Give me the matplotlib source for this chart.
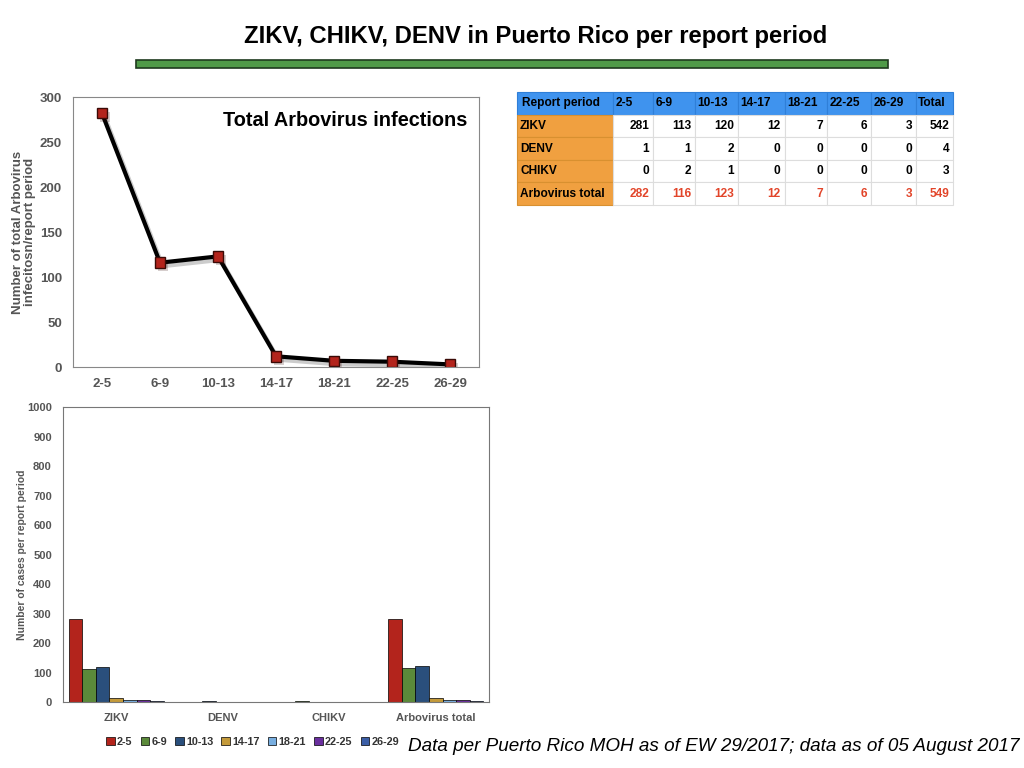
import numpy as np
import matplotlib
matplotlib.use('Agg')
import matplotlib.pyplot as plt
import matplotlib.patheffects as pe
from matplotlib.patches import Rectangle

plt.rcParams['font.family'] = ['Liberation Sans', 'DejaVu Sans']

periods = ['2-5', '6-9', '10-13', '14-17', '18-21', '22-25', '26-29']
viruses = ['ZIKV', 'DENV', 'CHIKV', 'Arbovirus total']
zikv = [281, 113, 120, 12, 7, 6, 3]
denv = [1, 1, 2, 0, 0, 0, 0]
chikv = [0, 2, 1, 0, 0, 0, 0]
arbo_total = [282, 116, 123, 12, 7, 6, 3]
row_totals = [542, 4, 3, 549]

period_colors = ['#b3241c', '#5b8a3a', '#2a4f7c', '#c49a3a', '#78aee0', '#6a2f9e', '#3b5ea6']
grey = '#555555'

fig = plt.figure(figsize=(10.24, 7.68), dpi=100)

# title and green rule
fig.text(0.523, 0.952, 'ZIKV, CHIKV, DENV in Puerto Rico per report period',
         ha='center', va='center', fontsize=17.2, fontweight='bold')
fig.patches.append(Rectangle((0.1328, 0.9115), 0.734, 0.0104, transform=fig.transFigure,
                             facecolor='#4f9a48', edgecolor='#1e3a1e', lw=1.2))

# line chart
ax1 = fig.add_axes([0.0713, 0.522, 0.3965, 0.3516])
x = np.arange(len(periods))
ax1.plot(x, arbo_total, color='black', lw=3,
         path_effects=[pe.SimpleLineShadow(offset=(2, -2.5), alpha=0.2), pe.Normal()])
ax1.plot(x, arbo_total, ls='none', marker='s', ms=7.5,
         mfc='#b3241c', mec='#3a0a06', mew=1,
         path_effects=[pe.SimplePatchShadow(offset=(2, -2.5), alpha=0.2), pe.Normal()])
ax1.set_xlim(-0.5, 6.5)
ax1.set_ylim(0, 300)
ax1.set_yticks(range(0, 301, 50))
ax1.set_xticks(x)
ax1.set_xticklabels(periods)
ax1.tick_params(length=0, labelsize=9.5, labelcolor=grey, pad=8)
for lab in ax1.get_xticklabels() + ax1.get_yticklabels():
    lab.set_fontweight('bold')
for sp in ax1.spines.values():
    sp.set_color('#888888')
ax1.set_ylabel('Number of total Arbovirus\ninfecitosn/report period', fontsize=9.5,
               fontweight='bold', color=grey, linespacing=1.0)
ax1.yaxis.set_label_coords(-0.092, 0.5)
ax1.text(0.972, 0.915, 'Total Arbovirus infections', transform=ax1.transAxes,
         ha='right', va='center', fontsize=14.3, fontweight='bold')

# table
axt = fig.add_axes([0.505, 0.733, 0.426, 0.147])
axt.axis('off')
col_labels = ['Report period'] + periods + ['Total']
rows = [zikv, denv, chikv, arbo_total]
cell_text = [col_labels]
for name, vals, tot in zip(viruses, rows, row_totals):
    cell_text.append([name] + [str(v) for v in vals] + [str(tot)])
widths = np.array([96, 40, 42, 43, 47, 42, 44, 45, 37], dtype=float)
tbl = axt.table(cellText=cell_text, colWidths=list(widths / widths.sum()),
                bbox=[0, 0, 1, 1], cellLoc='right')
tbl.auto_set_font_size(False)
for (r, c), cell in tbl.get_celld().items():
    cell.set_edgecolor('#dddddd')
    cell.set_linewidth(0.8)
    txt = cell.get_text()
    txt.set_fontsize(8.6)
    txt.set_fontweight('bold')
    if r == 0:
        cell.set_facecolor('#3f93ee')
        cell.set_edgecolor('#2f7fd8')
        txt.set_ha('left')
        cell.PAD = 0.05
    elif c == 0:
        cell.set_facecolor('#f0a040')
        cell.set_edgecolor('#d89030')
        txt.set_ha('left')
        cell.PAD = 0.03
    else:
        cell.set_facecolor('white')
        cell.PAD = 0.1
        if r == 4:
            txt.set_color('#e2452a')

# grouped bar chart
ax2 = fig.add_axes([0.0615, 0.0859, 0.416, 0.384])
gx = np.arange(len(viruses))
bw = 0.128
by_virus = np.array([zikv, denv, chikv, arbo_total])
for i, p in enumerate(periods):
    ax2.bar(gx + (i - 3) * bw, by_virus[:, i], width=bw, color=period_colors[i],
            edgecolor='black', lw=0.5, label=p)
ax2.set_xlim(-0.5, 3.5)
ax2.set_ylim(0, 1000)
ax2.set_yticks(range(0, 1001, 100))
ax2.set_xticks(gx)
ax2.set_xticklabels(viruses)
ax2.tick_params(length=0, labelsize=8, labelcolor=grey, pad=8)
for lab in ax2.get_xticklabels() + ax2.get_yticklabels():
    lab.set_fontweight('bold')
for sp in ax2.spines.values():
    sp.set_color('#777777')
ax2.set_ylabel('Number of cases per report period', fontsize=7.5, fontweight='bold',
               color=grey)
ax2.yaxis.set_label_coords(-0.085, 0.5)
leg = ax2.legend(loc='upper center', bbox_to_anchor=(0.445, -0.085), ncol=7, frameon=False,
                 fontsize=7.8, handlelength=0.8, handleheight=0.8, handletextpad=0.2,
                 columnspacing=0.75)
for t in leg.get_texts():
    t.set_fontweight('bold')
    t.set_color('#333333')

fig.text(0.996, 0.028, 'Data per Puerto Rico MOH as of EW 29/2017; data as of 05 August 2017',
         ha='right', va='center', fontsize=13.6, style='italic')

fig.savefig('out.png', dpi=100)
